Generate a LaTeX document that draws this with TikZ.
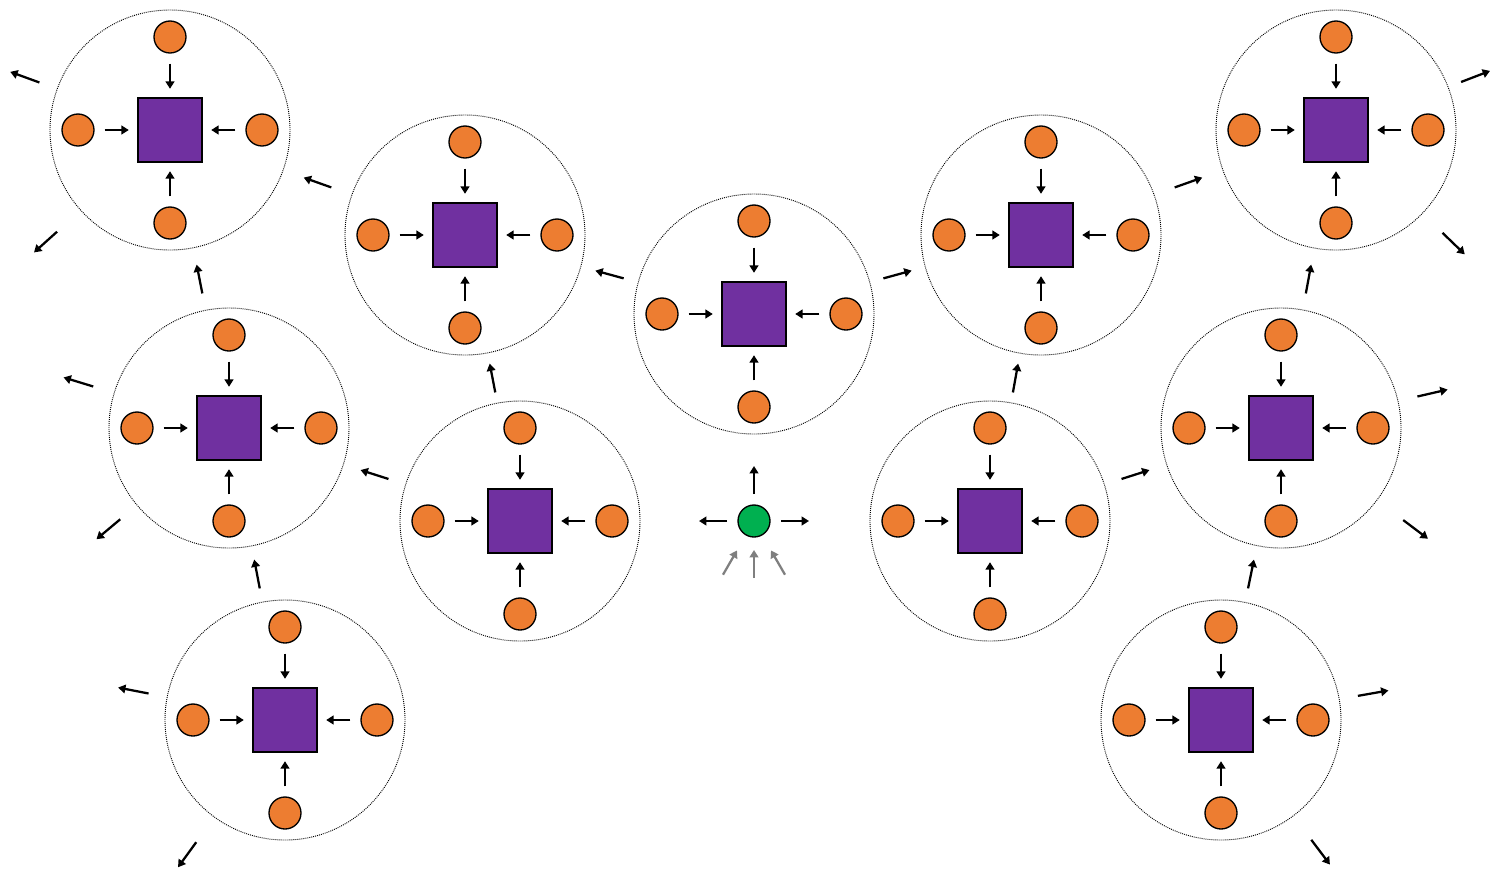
\documentclass[tikz,border=0pt]{standalone}
\usepackage{xcolor}
\usepackage{tikz}
\usetikzlibrary{arrows.meta}
\usetikzlibrary{calc}

\definecolor{naranja}{HTML}{ED7D31}
\definecolor{morado}{HTML}{7030A0}
\definecolor{verde}{HTML}{00B050}
\definecolor{gris}{HTML}{7F7F7F}

\begin{document}
\begin{tikzpicture}[x=0.75pt, y=0.75pt,
  celda/.style={circle, draw=black, line width=0.7pt, dash pattern=on 0.7pt off 0.8pt, minimum size=180pt, inner sep=0pt},
  nucleo/.style={draw, fill=morado, line width=0.8pt, minimum size=48pt, inner sep=0pt},
  ion/.style={draw, circle, fill=naranja, line width=1pt, minimum size=24pt, inner sep=0pt},
  semilla/.style={draw, circle, fill=verde, line width=1pt, minimum size=24pt, inner sep=0pt},
  flujo/.style={-{Triangle[length=5.5pt,width=6.5pt]}, line width=1.7pt},
  aporte/.style={flujo, draw=gris, color=gris}]
  \useasboundingbox (0,0) rectangle (1500,-872);

  % Celdas con su nucleo y cuatro iones
  \foreach \n/\x/\y in {1/170/130, 2/465/235, 3/754/314, 4/1041/235, 5/1336/130,
                        6/229/428, 7/520/521, 8/990/521, 9/1281/428, 10/285/720, 11/1221/720} {
    \node[celda] (C\n) at (\x,-\y) {};
    \node[nucleo] (Q\n) at (C\n) {};
    \node[ion] (N\n) at ($(C\n)+(0,93)$) {};
    \node[ion] (S\n) at ($(C\n)+(0,-93)$) {};
    \node[ion] (O\n) at ($(C\n)+(-92,0)$) {};
    \node[ion] (E\n) at ($(C\n)+(92,0)$) {};
    \foreach \i in {N,S,O,E}
      \draw[flujo, shorten <=7.5pt, shorten >=6.5pt] (\i\n) -- (Q\n);
  }

  % Propagacion entre celdas
  \foreach \a/\b in {3/2, 3/4, 2/1, 4/5, 7/2, 7/6, 8/4, 8/9, 6/1, 9/5, 10/6, 11/9}
    \draw[flujo] ($(C\a)!0.5!(C\b)!11pt!(C\a)$) -- ($(C\a)!0.5!(C\b)!11pt!(C\b)$);

  % Salidas hacia fuera
  \foreach \n/\a/\r in {1/160/139, 1/222/152, 6/163/142, 6/220/142, 10/169/139, 10/234/151,
                        5/21/134, 5/-44/148, 9/13/140, 9/-37/153, 11/10/139, 11/-53/150}
    \draw[flujo] ($(C\n)+({\a}:{\r})$) -- ($(C\n)+({\a}:{\r+31})$);

  % Semilla
  \node[semilla] (G) at (754,-521) {};
  \foreach \a in {90, 180, 0}
    \draw[flujo] ($(G)+({\a}:27)$) -- ($(G)+({\a}:55)$);
  \foreach \a/\r in {240/62, 270/57, 300/62}
    \draw[aporte] ($(G)+({\a}:{\r})$) -- ($(G)+({\a}:{\r-28})$);
\end{tikzpicture}
\end{document}
